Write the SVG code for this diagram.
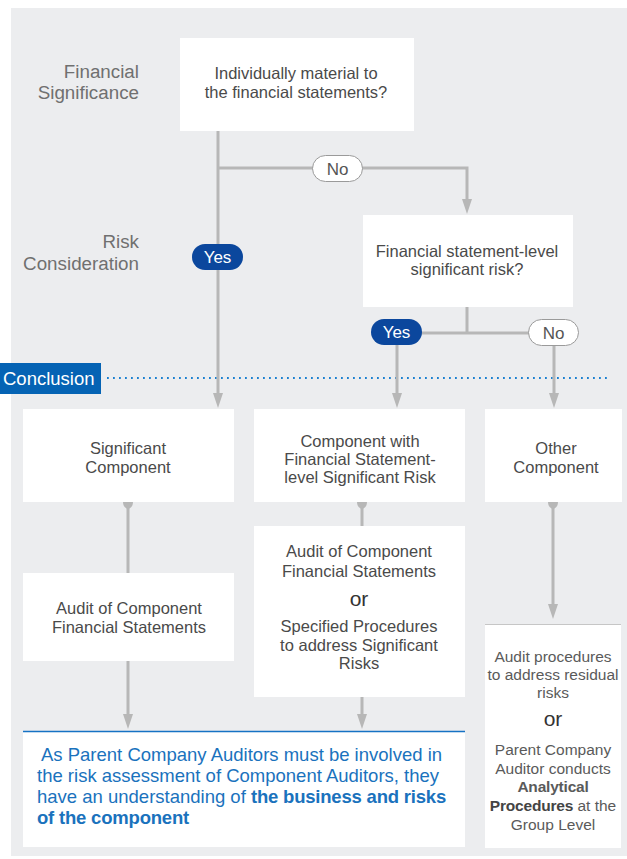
<svg xmlns="http://www.w3.org/2000/svg" width="627" height="859" viewBox="0 0 627 859">
  <style>
    .bg { fill: #ecedef; }
    .box { fill: #ffffff; }
    .t { font-family: "Liberation Sans", Arial, sans-serif; font-size: 16.5px; fill: #4a4a4a; text-anchor: middle; }
    .side { font-family: "Liberation Sans", Arial, sans-serif; font-size: 18.8px; fill: #707070; text-anchor: end; }
    .small { font-family: "Liberation Sans", Arial, sans-serif; font-size: 15.5px; fill: #5a5a5a; text-anchor: middle; }
    .or { font-family: "Liberation Sans", Arial, sans-serif; font-size: 21px; fill: #333333; text-anchor: middle; }
    .blue { font-family: "Liberation Sans", Arial, sans-serif; font-size: 18.5px; fill: #1a72bd; }
    .b { font-weight: bold; letter-spacing: -0.2px; }
    .conn { fill: none; stroke: #b7b7b7; stroke-width: 3; }
    .pill-no { fill: #ffffff; stroke: #9a9a9a; stroke-width: 1; }
    .pill-yes { fill: #0b479d; }
    .pt { font-family: "Liberation Sans", Arial, sans-serif; font-size: 17px; text-anchor: middle; }
  </style>
  <defs>
    <marker id="arrow" markerUnits="userSpaceOnUse" markerWidth="16" markerHeight="10" refX="4" refY="5" orient="auto" viewBox="0 0 16 10">
      <path d="M0,0 L15,5 L0,10 Z" fill="#b7b7b7"/>
    </marker>
    <marker id="cap" markerUnits="userSpaceOnUse" markerWidth="8" markerHeight="11" refX="0" refY="5.5" orient="auto" viewBox="0 0 8 11">
      <path d="M0,0.5 L0,10.5 Q4.5,10.5 6.5,7 L6.5,4 Q4.5,0.5 0,0.5 Z" fill="#b7b7b7"/>
    </marker>
  </defs>

  <!-- panel background -->
  <rect class="bg" x="11" y="8" width="616" height="848"/>

  <!-- row labels -->
  <g id="label-financial">
    <text class="side" x="139" y="78">Financial</text>
    <text class="side" x="139" y="99">Significance</text>
  </g>
  <g id="label-risk">
    <text class="side" x="139" y="248">Risk</text>
    <text class="side" x="139" y="270">Consideration</text>
  </g>

  <!-- conclusion divider -->
  <g id="conclusion">
    <line x1="107" y1="378" x2="610" y2="378" stroke="#1a7fd0" stroke-width="1.8" stroke-dasharray="1.8 4.2"/>
    <rect x="0" y="363" width="101" height="31" fill="#0563b4"/>
    <text x="3" y="385" font-family="'Liberation Sans', Arial, sans-serif" font-size="18.5" fill="#ffffff">Conclusion</text>
  </g>

  <!-- connectors -->
  <g id="connectors">
    <path class="conn" d="M218,131 V397" marker-end="url(#arrow)"/>
    <path class="conn" d="M218,168 H467 V203" marker-end="url(#arrow)"/>
    <path class="conn" d="M467,307 V333"/>
    <path class="conn" d="M397,333 H554"/>
    <path class="conn" d="M397,333 V397" marker-end="url(#arrow)"/>
    <path class="conn" d="M554,333 V397" marker-end="url(#arrow)"/>
    <path class="conn" d="M128,502 V573" marker-start="url(#cap)"/>
    <path class="conn" d="M128,661 V718" marker-end="url(#arrow)"/>
    <path class="conn" d="M362,502 V526" marker-start="url(#cap)"/>
    <path class="conn" d="M362,697 V718" marker-end="url(#arrow)"/>
    <path class="conn" d="M553,502 V608" marker-start="url(#cap)" marker-end="url(#arrow)"/>
  </g>

  <!-- decision labels -->
  <g id="no-1">
    <rect class="pill-no" x="312.5" y="155.5" width="50" height="26" rx="13"/>
    <text class="pt" x="337.5" y="174.5" fill="#555555">No</text>
  </g>
  <g id="yes-1">
    <rect class="pill-yes" x="192" y="244" width="51" height="26" rx="13"/>
    <text class="pt" x="217.5" y="263" fill="#ffffff">Yes</text>
  </g>
  <g id="yes-2">
    <rect class="pill-yes" x="371" y="319" width="51" height="26" rx="13"/>
    <text class="pt" x="396.5" y="338" fill="#ffffff">Yes</text>
  </g>
  <g id="no-2">
    <rect class="pill-no" x="528.5" y="319.5" width="50" height="26" rx="13"/>
    <text class="pt" x="553.5" y="338.5" fill="#555555">No</text>
  </g>

  <!-- question nodes -->
  <g id="q-material">
    <rect class="box" x="180" y="38" width="234" height="93"/>
    <text class="t" x="296" y="79">Individually material to</text>
    <text class="t" x="296" y="98">the financial statements?</text>
  </g>
  <g id="q-risk">
    <rect class="box" x="363" y="215" width="210" height="92"/>
    <text class="t" x="467" y="257">Financial statement-level</text>
    <text class="t" x="467" y="275">significant risk?</text>
  </g>

  <!-- component nodes -->
  <g id="significant-component">
    <rect class="box" x="23" y="409" width="211" height="93"/>
    <text class="t" x="128" y="454">Significant</text>
    <text class="t" x="128" y="473">Component</text>
  </g>
  <g id="risk-component">
    <rect class="box" x="254" y="409" width="211" height="93"/>
    <text class="t" x="360" y="447">Component with</text>
    <text class="t" x="360" y="465">Financial Statement-</text>
    <text class="t" x="360" y="483">level Significant Risk</text>
  </g>
  <g id="other-component">
    <rect class="box" x="485" y="409" width="137" height="93"/>
    <text class="t" x="556" y="454">Other</text>
    <text class="t" x="556" y="473">Component</text>
  </g>

  <!-- procedure nodes -->
  <g id="audit-full">
    <rect class="box" x="23" y="573" width="211" height="88"/>
    <text class="t" x="129" y="614">Audit of Component</text>
    <text class="t" x="129" y="633">Financial Statements</text>
  </g>
  <g id="audit-or-specified">
    <rect class="box" x="254" y="526" width="211" height="171"/>
    <text class="t" x="359" y="557">Audit of Component</text>
    <text class="t" x="359" y="577">Financial Statements</text>
    <text class="or" x="359" y="606">or</text>
    <text class="t" x="359" y="632">Specified Procedures</text>
    <text class="t" x="359" y="651">to address Significant</text>
    <text class="t" x="359" y="669">Risks</text>
  </g>
  <g id="residual-or-analytical">
    <rect class="box" x="485" y="624" width="136" height="224"/>
    <line x1="485" y1="624.5" x2="621" y2="624.5" stroke="#c6c6c6" stroke-width="1"/>
    <text class="small" x="553" y="662">Audit procedures</text>
    <text class="small" x="553" y="680">to address residual</text>
    <text class="small" x="553" y="698">risks</text>
    <text class="or" x="553" y="726">or</text>
    <text class="small" x="553" y="755">Parent Company</text>
    <text class="small" x="553" y="774">Auditor conducts</text>
    <text class="small b" x="553" y="792" fill="#444444">Analytical</text>
    <text class="small" x="553" y="811"><tspan class="b" fill="#444444">Procedures</tspan> at the</text>
    <text class="small" x="553" y="830">Group Level</text>
  </g>

  <!-- summary note -->
  <g id="summary">
    <rect class="box" x="23" y="731" width="442" height="116"/>
    <line x1="23" y1="731.5" x2="465" y2="731.5" stroke="#1672c4" stroke-width="1.6"/>
    <text class="blue" x="41" y="761">As Parent Company Auditors must be involved in</text>
    <text class="blue" x="37" y="782">the risk assessment of Component Auditors, they</text>
    <text class="blue" x="37" y="803">have an understanding of <tspan class="b">the business and risks</tspan></text>
    <text class="blue b" x="37" y="824">of the component</text>
  </g>
</svg>
